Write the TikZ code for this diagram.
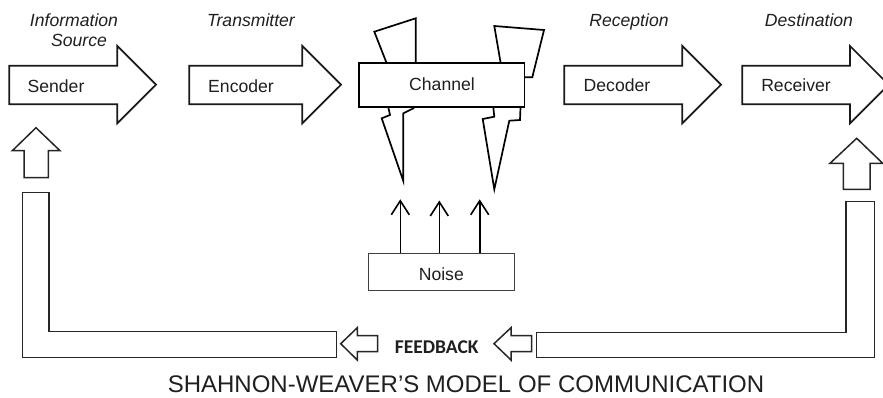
\documentclass[tikz,border=0pt]{standalone}
\usepackage{fontspec}
\setmainfont{Liberation Sans}
\newfontfamily\fbfont{Carlito}
\usetikzlibrary{arrows.meta}

% one of the big block arrows of the chain: left end, head base, tip
\newcommand\flowarrow[3]{%
  \draw[blockline] (#1,65.7) -- (#2,65.7) -- (#2,46) -- (#3,84.7)
    -- (#2,123.3) -- (#2,104.3) -- (#1,104.3) -- cycle;}

\tikzset{
  blockline/.style={line width=1.7pt, draw=black!90, fill=white, line join=miter},
  fbline/.style={line width=1.5pt, draw=black!85, fill=white, line join=miter},
  boltline/.style={line width=1.7pt, draw=black, fill=white, line join=miter},
  maintext/.style={font=\fontsize{17.6}{20}\selectfont, text=black!88, inner sep=0pt},
  rolelabel/.style={font=\fontsize{17.6}{20}\selectfont\itshape, text=black!88, inner sep=0pt, anchor=base},
  noisearrow/.style={line width=1.6pt, draw=black, -{Straight Barb[length=14pt,width=18pt,line width=1.6pt]}},
}

\begin{document}
\begin{tikzpicture}[x=1pt,y=-1pt]
\useasboundingbox (0,0) rectangle (883,397);

% role labels above the chain
\node[rolelabel] (lblsrc1) at (74,26) {Information};
\node[rolelabel] (lblsrc2) at (79,46.7) {Source};
\node[rolelabel] (lbltx) at (251,26) {Transmitter};
\node[rolelabel] (lblrx) at (629,26) {Reception};
\node[rolelabel] (lbldst) at (809,26) {Destination};

% the chain of block arrows
\flowarrow{9.3}{117.3}{156}
\flowarrow{189.3}{302.3}{341}
\flowarrow{564.3}{682.3}{721}
\flowarrow{742.3}{850}{888.7}

\node[maintext, anchor=base] (sender) at (56,92.5) {Sender};
\node[maintext, anchor=base] (encoder) at (241,92.5) {Encoder};
\node[maintext, anchor=base] (decoder) at (617,91) {Decoder};
\node[maintext, anchor=base] (receiver) at (796,91.5) {Receiver};

% lightning bolts striking through the channel
\draw[boltline] (386.7,63.3) -- (374.3,31.7) -- (415.7,18.3) -- (415.7,63.3);
\draw[boltline] (500.7,63.3) -- (494.3,26) -- (544,30) -- (532.3,77.3) -- (524.3,77.3);
\draw[boltline] (388.3,107.3) -- (390,115) -- (381.7,118.3) -- (403.3,181)
  -- (403.3,113.3) -- (413.5,108.3) -- (413.5,107.3);
\draw[boltline] (493.3,107.3) -- (494.3,116.7) -- (482.7,119) -- (494.3,189.3)
  -- (509.3,120.7) -- (520,120) -- (520.5,107.3);

% channel box
\node[draw=black, fill=white, line width=1.7pt, minimum width=165.3pt, minimum height=44pt,
      maintext] (channel) at (441.7,85.3) {};
\node[maintext, anchor=base] (channeltxt) at (442,90) {Channel};

% noise source and its arrows into the channel
\node[draw=black!75, line width=0.9pt, minimum width=146pt, minimum height=36.7pt,
      maintext] (noise) at (441.3,271.7) {};
\node[maintext, anchor=base] (noisetxt) at (441.3,280) {Noise};
\coordinate (n1) at (400.3,199.3);
\coordinate (n2) at (439.3,200.5);
\coordinate (n3) at (479.7,199.3);
\foreach \c in {n1,n2,n3}
  \draw[noisearrow] (noise.north -| \c) -- (\c);

% feedback path: receiver side
\draw[fbline] (856.7,138.3) -- (882.7,163.3) -- (870,163.3) -- (870,189.3)
  -- (843.3,189.3) -- (843.3,163.3) -- (830,163.3) -- cycle;
\draw[fbline] (536.7,332.3) -- (846,332.3) -- (846,201.7) -- (874.3,201.7)
  -- (874.3,357.7) -- (536.7,357.7) -- cycle;
\draw[fbline] (494,343.7) -- (511,327.7) -- (511,335.7) -- (531.7,335.7)
  -- (531.7,351.7) -- (511,351.7) -- (511,360) -- cycle;

\node[font=\fbfont\bfseries\fontsize{19.5}{21}\selectfont, text=black!88, inner sep=0pt,
      anchor=base] (feedback) at (436.7,353.3) {FEEDBACK};

% feedback path: sender side
\draw[fbline] (340.7,343.7) -- (357.3,327.7) -- (357.3,335.7) -- (377.7,335.7)
  -- (377.7,351.7) -- (357.3,351.7) -- (357.3,360) -- cycle;
\draw[fbline] (22.3,192.7) -- (49,192.7) -- (49,331.3) -- (336.7,331.3)
  -- (336.7,357.7) -- (22.3,357.7) -- cycle;
\draw[fbline] (36,127.7) -- (60,150.7) -- (48.3,150.7) -- (48.3,177.7)
  -- (24,177.7) -- (24,150.7) -- (12.3,150.7) -- cycle;

% caption
\node[font=\fontsize{24}{28}\selectfont, text=black!88, inner sep=0pt, anchor=base]
  (caption) at (466,392.3) {SHAHNON-WEAVER’S MODEL OF COMMUNICATION};
\end{tikzpicture}
\end{document}
